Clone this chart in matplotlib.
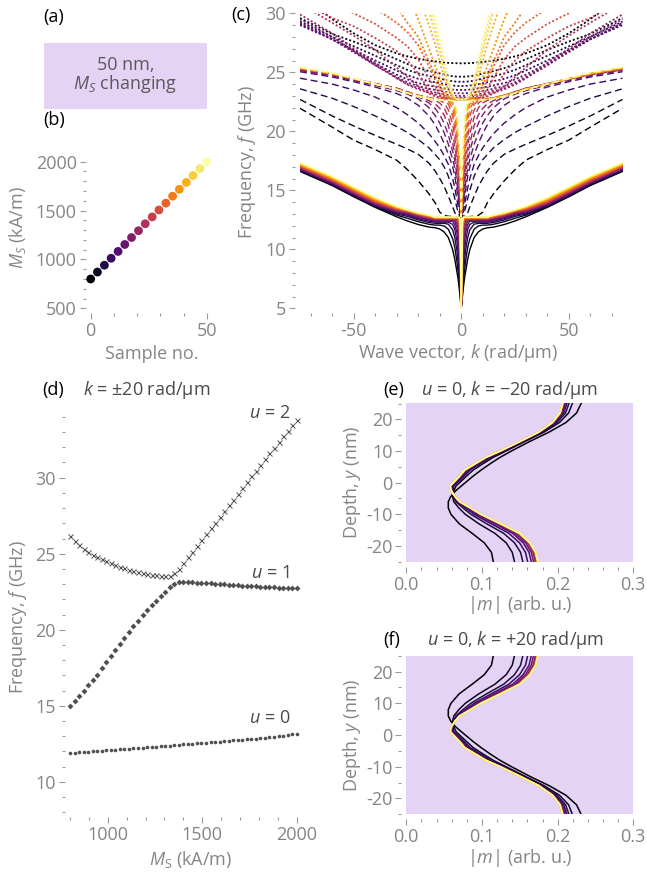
import numpy as np
import matplotlib
matplotlib.use("Agg")
import matplotlib.pyplot as plt
from matplotlib.patches import Rectangle
from matplotlib.ticker import MultipleLocator

plt.rcParams["font.family"] = ["Open Sans", "DejaVu Sans"]
plt.rcParams["mathtext.fontset"] = "custom"
plt.rcParams["mathtext.rm"] = "Open Sans"
plt.rcParams["mathtext.it"] = "Open Sans:italic"
plt.rcParams["axes.unicode_minus"] = False

# ---- (b) samples ----
SAMPLE_NO = [0, 2.9, 5.9, 8.8, 11.8, 14.7, 17.6, 20.6, 23.5, 26.5, 29.4, 32.4, 35.3, 38.2, 41.2, 44.1, 47.1, 50]
MS_SAMPLES = [800, 871, 941, 1012, 1082, 1153, 1224, 1294, 1365, 1435, 1506, 1576, 1647, 1718, 1788, 1859, 1929, 2000]

# ---- (c) dispersion, k >= 0 side (mirrored for k < 0) ----
K_POS = [0, 0.5, 1, 1.5, 2, 3, 4, 6, 8, 10, 12, 15, 20, 25, 30, 40, 50, 60, 75]

SOLID_U0 = [
    [5.0, 5.89, 6.77, 7.52, 8.07, 9.16, 9.98, 11.0, 11.48, 11.72, 11.82, 11.88, 12.1, 12.4, 12.75, 13.55, 14.45, 15.4, 16.6],
    [5.0, 6.23, 7.36, 8.19, 8.95, 10.17, 10.9, 11.7, 11.98, 12.05, 12.05, 12.12, 12.34, 12.63, 12.89, 13.6, 14.5, 15.45, 16.64],
    [5.0, 6.66, 7.97, 9.0, 9.87, 10.99, 11.65, 12.13, 12.2, 12.2, 12.2, 12.27, 12.49, 12.79, 12.99, 13.65, 14.55, 15.49, 16.69],
    [5.0, 7.13, 8.63, 9.84, 10.67, 11.68, 12.11, 12.3, 12.3, 12.3, 12.3, 12.38, 12.6, 12.89, 13.07, 13.7, 14.6, 15.54, 16.73],
    [5.0, 7.64, 9.38, 10.59, 11.39, 12.08, 12.37, 12.38, 12.38, 12.38, 12.38, 12.47, 12.68, 12.97, 13.14, 13.75, 14.65, 15.59, 16.78],
    [5.0, 8.07, 10.03, 11.19, 11.87, 12.37, 12.44, 12.44, 12.44, 12.44, 12.44, 12.53, 12.75, 13.03, 13.2, 13.8, 14.7, 15.64, 16.82],
    [5.0, 8.57, 10.66, 11.74, 12.19, 12.49, 12.49, 12.49, 12.49, 12.49, 12.49, 12.59, 12.8, 13.08, 13.25, 13.85, 14.75, 15.68, 16.86],
    [5.0, 9.11, 11.2, 12.13, 12.44, 12.53, 12.53, 12.53, 12.53, 12.53, 12.53, 12.64, 12.85, 13.13, 13.29, 13.9, 14.8, 15.73, 16.91],
    [5.0, 9.61, 11.65, 12.32, 12.56, 12.56, 12.56, 12.56, 12.56, 12.56, 12.56, 12.67, 12.88, 13.16, 13.33, 13.95, 14.85, 15.78, 16.95],
    [5.0, 10.13, 12.01, 12.51, 12.59, 12.59, 12.59, 12.59, 12.59, 12.59, 12.59, 12.71, 12.92, 13.19, 13.37, 14.0, 14.9, 15.82, 17.0],
    [5.0, 10.61, 12.26, 12.62, 12.62, 12.62, 12.62, 12.62, 12.62, 12.62, 12.62, 12.75, 12.95, 13.22, 13.42, 14.05, 14.95, 15.87, 17.04],
    [5.0, 10.96, 12.45, 12.64, 12.64, 12.64, 12.64, 12.64, 12.64, 12.64, 12.64, 12.77, 12.98, 13.25, 13.45, 14.1, 15.0, 15.92, 17.08],
    [5.0, 11.34, 12.58, 12.66, 12.66, 12.66, 12.66, 12.66, 12.66, 12.66, 12.66, 12.8, 13.0, 13.27, 13.49, 14.15, 15.05, 15.96, 17.13],
    [5.0, 11.72, 12.67, 12.68, 12.68, 12.68, 12.68, 12.68, 12.68, 12.68, 12.68, 12.82, 13.03, 13.29, 13.52, 14.2, 15.1, 16.01, 17.17],
    [5.0, 11.93, 12.7, 12.7, 12.7, 12.7, 12.7, 12.7, 12.7, 12.7, 12.7, 12.85, 13.05, 13.31, 13.56, 14.25, 15.15, 16.06, 17.22],
    [5.0, 12.17, 12.71, 12.71, 12.71, 12.71, 12.71, 12.71, 12.71, 12.71, 12.71, 12.87, 13.07, 13.33, 13.6, 14.3, 15.2, 16.11, 17.26],
    [5.0, 12.31, 12.72, 12.72, 12.72, 12.72, 12.72, 12.72, 12.72, 12.72, 12.72, 12.88, 13.09, 13.34, 13.62, 14.35, 15.25, 16.15, 17.3],
    [5.0, 12.42, 12.73, 12.73, 12.73, 12.73, 12.73, 12.73, 12.73, 12.73, 12.73, 12.9, 13.1, 13.35, 13.65, 14.4, 15.3, 16.2, 17.35],
]

DASHED_U1 = [
    [12.75, 12.75, 12.75, 12.75, 12.76, 12.76, 12.77, 12.8, 12.88, 13.15, 13.9, 14.7, 15.8, 16.75, 17.55, 18.45, 19.25, 20.35, 21.95],
    [12.75, 12.76, 12.78, 12.8, 12.85, 13.1, 13.6, 14.5, 15.35, 16.0, 16.6, 17.3, 18.05, 18.5, 18.9, 19.65, 20.45, 21.3, 22.7],
    [12.75, 12.8, 12.95, 13.2, 13.5, 14.3, 15.0, 16.2, 17.0, 17.6, 18.0, 18.6, 19.3, 19.9, 20.4, 21.3, 22.1, 22.8, 23.6],
    [12.75, 12.9, 13.2, 13.7, 14.2, 15.2, 16.0, 17.2, 17.95, 18.6, 19.1, 19.8, 20.7, 21.4, 22.0, 22.9, 23.5, 24.0, 24.5],
    [12.75, 13.1, 13.6, 14.3, 15.0, 16.2, 17.0, 18.05, 19.0, 19.8, 20.5, 21.3, 22.2, 22.8, 23.2, 23.75, 24.2, 24.6, 25.05],
    [12.75, 13.3, 14.0, 14.8, 15.6, 16.9, 17.6, 18.9, 19.9, 20.7, 21.3, 22.0, 22.75, 23.15, 23.45, 23.9, 24.3, 24.7, 25.15],
    [12.75, 13.5, 14.5, 15.5, 16.3, 17.5, 18.3, 19.7, 20.7, 21.4, 21.9, 22.4, 22.95, 23.3, 23.6, 24.0, 24.4, 24.8, 25.2],
    [12.75, 13.8, 15.0, 16.1, 17.0, 18.0, 19.0, 20.5, 21.4, 21.95, 22.3, 22.6, 23.0, 23.35, 23.65, 24.05, 24.45, 24.85, 25.25],
    [12.75, 14.1, 15.5, 16.6, 17.5, 18.7, 19.8, 21.2, 22.0, 22.4, 22.6, 22.8, 23.05, 23.35, 23.65, 24.05, 24.45, 24.85, 25.3],
    [12.75, 14.4, 16.0, 17.1, 18.0, 19.5, 20.6, 21.8, 22.4, 22.65, 22.75, 22.85, 23.05, 23.3, 23.6, 24.0, 24.45, 24.85, 25.3],
    [12.75, 14.8, 16.4, 17.6, 18.6, 20.2, 21.3, 22.3, 22.6, 22.7, 22.75, 22.85, 23.05, 23.3, 23.6, 24.0, 24.45, 24.85, 25.3],
    [12.75, 15.2, 16.9, 18.2, 19.3, 20.9, 21.9, 22.55, 22.65, 22.7, 22.74, 22.83, 23.03, 23.3, 23.6, 24.0, 24.45, 24.85, 25.32],
    [12.75, 15.6, 17.5, 18.8, 20.0, 21.5, 22.3, 22.6, 22.65, 22.7, 22.73, 22.82, 23.02, 23.28, 23.58, 24.0, 24.45, 24.87, 25.34],
    [12.75, 16.0, 18.0, 19.4, 20.6, 21.9, 22.5, 22.62, 22.65, 22.69, 22.72, 22.8, 23.0, 23.27, 23.57, 24.0, 24.45, 24.88, 25.36],
    [12.75, 16.4, 18.5, 19.9, 21.0, 22.2, 22.55, 22.63, 22.65, 22.68, 22.71, 22.79, 22.99, 23.26, 23.56, 24.0, 24.46, 24.9, 25.38],
    [12.75, 16.8, 18.9, 20.3, 21.4, 22.35, 22.58, 22.63, 22.65, 22.68, 22.71, 22.78, 22.98, 23.25, 23.55, 24.0, 24.47, 24.92, 25.4],
    [12.75, 17.2, 19.3, 20.7, 21.7, 22.45, 22.6, 22.63, 22.65, 22.67, 22.7, 22.77, 22.97, 23.24, 23.55, 24.0, 24.48, 24.94, 25.42],
    [12.75, 17.5, 19.7, 21.0, 21.95, 22.5, 22.6, 22.63, 22.65, 22.67, 22.7, 22.76, 22.96, 23.23, 23.55, 24.0, 24.5, 24.96, 25.45],
]

DOTTED_U2 = [
    [25.76, 25.76, 25.76, 25.76, 25.77, 25.77, 25.78, 25.8, 25.83, 25.87, 25.92, 26.0, 26.15, 26.35, 26.6, 27.3, 28.3, 29.5, 31.6],
    [24.63, 24.63, 24.63, 24.63, 24.64, 24.65, 24.67, 24.72, 24.8, 24.9, 25.0, 25.1, 25.35, 25.7, 26.1, 26.9, 27.6, 28.25, 29.6],
    [24.2, 24.2, 24.2, 24.2, 24.21, 24.22, 24.24, 24.3, 24.38, 24.47, 24.56, 24.68, 24.9, 25.2, 25.6, 26.4, 27.2, 28.0, 29.3],
    [23.84, 23.84, 23.84, 23.84, 23.85, 23.86, 23.88, 23.93, 24.0, 24.07, 24.15, 24.25, 24.45, 24.75, 25.15, 26.0, 26.9, 27.8, 29.1],
    [23.5, 23.5, 23.5, 23.5, 23.51, 23.52, 23.54, 23.58, 23.64, 23.71, 23.78, 23.88, 24.08, 24.4, 24.8, 25.75, 26.8, 27.8, 29.0],
    [23.22, 23.22, 23.22, 23.22, 23.23, 23.24, 23.26, 23.3, 23.36, 23.43, 23.5, 23.6, 23.82, 24.15, 24.6, 25.6, 26.7, 27.8, 29.2],
    [23.0, 23.0, 23.0, 23.0, 23.01, 23.02, 23.04, 23.08, 23.14, 23.2, 23.28, 23.4, 23.65, 24.0, 24.5, 25.6, 26.8, 28.0, 29.5],
    [22.85, 22.85, 22.85, 22.85, 22.86, 22.87, 22.88, 22.92, 22.98, 23.05, 23.13, 23.27, 23.55, 23.95, 24.5, 25.8, 27.0, 28.3, 29.9],
    [22.78, 22.78, 22.78, 22.78, 22.78, 22.79, 22.79, 22.8, 22.83, 22.88, 22.95, 23.2, 23.8, 24.6, 25.4, 26.9, 28.1, 29.2, 30.8],
    [22.72, 22.72, 22.72, 22.72, 22.72, 22.72, 22.73, 22.74, 22.76, 22.8, 22.95, 23.5, 24.9, 26.0, 26.8, 27.9, 28.9, 29.6, 31.0],
    [22.7, 22.7, 22.7, 22.7, 22.7, 22.7, 22.71, 22.73, 22.78, 22.95, 23.6, 24.5, 26.1, 27.2, 27.9, 29.1, 30.0, 30.8, 32.0],
    [22.7, 22.7, 22.7, 22.7, 22.7, 22.7, 22.71, 22.75, 22.9, 23.5, 24.3, 25.5, 27.3, 28.4, 29.2, 30.4, 31.5, 32.5, 34.0],
    [22.7, 22.7, 22.7, 22.7, 22.7, 22.71, 22.72, 22.8, 23.2, 23.9, 24.7, 25.9, 28.0, 29.2, 30.5, 32.5, 34.0, 35.0, 37.0],
    [22.7, 22.7, 22.7, 22.7, 22.7, 22.72, 22.75, 22.95, 23.6, 24.5, 25.5, 27.0, 29.5, 31.5, 33.0, 35.0, 37.0, 38.0, 40.0],
    [22.7, 22.7, 22.7, 22.7, 22.71, 22.75, 22.85, 23.5, 24.6, 25.9, 27.3, 29.0, 31.5, 33.5, 35.0, 37.0, 39.0, 40.0, 42.0],
    [22.7, 22.7, 22.7, 22.71, 22.72, 22.8, 22.95, 23.9, 25.3, 26.8, 28.2, 30.2, 33.0, 35.0, 37.0, 39.0, 41.0, 42.0, 44.0],
    [22.7, 22.7, 22.7, 22.71, 22.73, 22.85, 23.15, 24.2, 25.8, 27.4, 28.9, 30.8, 34.0, 36.0, 38.0, 40.0, 42.0, 44.0, 46.0],
    [22.7, 22.7, 22.7, 22.72, 22.75, 22.9, 23.3, 24.5, 26.3, 27.9, 29.6, 32.0, 35.0, 37.0, 39.0, 41.0, 43.0, 45.0, 47.0],
]

# ---- (d) frequencies at k = +-20 rad/um vs Ms ----
MS_SWEEP = [800, 824, 848, 872, 896, 920, 944, 968, 992, 1016, 1040, 1064, 1088, 1112, 1136, 1160, 1184,
            1208, 1232, 1256, 1280, 1304, 1328, 1352, 1376, 1400, 1424, 1448, 1472, 1496, 1520, 1544, 1568,
            1592, 1616, 1640, 1664, 1688, 1712, 1736, 1760, 1784, 1808, 1832, 1856, 1880, 1904, 1928, 1952,
            1976, 2000]
U0_SWEEP = [11.90, 11.92, 11.94, 11.96, 11.98, 12.00, 12.02, 12.05, 12.07, 12.09, 12.11, 12.13, 12.15,
            12.17, 12.20, 12.22, 12.24, 12.26, 12.29, 12.31, 12.33, 12.35, 12.38, 12.40, 12.42, 12.45,
            12.47, 12.49, 12.52, 12.54, 12.57, 12.59, 12.62, 12.64, 12.67, 12.69, 12.72, 12.74, 12.77,
            12.79, 12.82, 12.84, 12.87, 12.90, 12.93, 12.96, 12.99, 13.03, 13.07, 13.11, 13.15]
U1_SWEEP = [15.0, 15.3, 15.65, 16.0, 16.35, 16.7, 17.05, 17.45, 17.85, 18.25, 18.65, 19.05, 19.45, 19.85,
            20.25, 20.6, 20.95, 21.3, 21.6, 21.9, 22.2, 22.5, 22.8, 23.02, 23.12, 23.15, 23.14, 23.12,
            23.1, 23.08, 23.06, 23.04, 23.02, 23.0, 22.98, 22.96, 22.94, 22.92, 22.9, 22.88, 22.86, 22.85,
            22.83, 22.81, 22.8, 22.78, 22.77, 22.75, 22.74, 22.73, 22.72]
U2_SWEEP = [26.14, 25.85, 25.58, 25.34, 25.13, 24.94, 24.77, 24.62, 24.49, 24.37, 24.26, 24.15, 24.05,
            23.96, 23.87, 23.79, 23.72, 23.66, 23.61, 23.57, 23.54, 23.52, 23.55, 23.72, 24.02, 24.38,
            24.76, 25.14, 25.52, 25.9, 26.28, 26.66, 27.04, 27.42, 27.8, 28.18, 28.56, 28.94, 29.32,
            29.7, 30.08, 30.46, 30.84, 31.22, 31.6, 31.98, 32.36, 32.74, 33.1, 33.45, 33.77]

# ---- (e)/(f) mode profiles |m|(y), u = 0, k = -20 ((f) is the mirror image) ----
DEPTH_NM = [-25, -22, -19, -16, -13, -10, -8, -6, -4.5, -3, -2, -1, 0, 2, 4, 6, 8, 10, 13, 16, 19, 22, 25]
PROFILES = [
    [0.115, 0.1125, 0.103, 0.087, 0.070, 0.059, 0.0555, 0.0555, 0.0585, 0.0635, 0.068, 0.073, 0.078, 0.088, 0.099, 0.111, 0.124, 0.139, 0.163, 0.189, 0.211, 0.225, 0.231],
    [0.143, 0.140, 0.132, 0.117, 0.096, 0.078, 0.0695, 0.0627, 0.0613, 0.0621, 0.064, 0.0659, 0.0704, 0.0794, 0.0885, 0.1015, 0.115, 0.1319, 0.1568, 0.1823, 0.2024, 0.2145, 0.2194],
    [0.154, 0.151, 0.143, 0.1286, 0.1063, 0.0854, 0.075, 0.0655, 0.0626, 0.0615, 0.0621, 0.0631, 0.0674, 0.0761, 0.0845, 0.0978, 0.1115, 0.1291, 0.1544, 0.1798, 0.1991, 0.2105, 0.2149],
    [0.1604, 0.1575, 0.1496, 0.1355, 0.1124, 0.0898, 0.0782, 0.0671, 0.0634, 0.0612, 0.0609, 0.0614, 0.0657, 0.0741, 0.0821, 0.0956, 0.1094, 0.1274, 0.153, 0.1782, 0.1971, 0.2081, 0.2122],
    [0.1652, 0.1622, 0.1544, 0.1406, 0.1168, 0.093, 0.0806, 0.0683, 0.064, 0.0609, 0.0601, 0.0602, 0.0644, 0.0727, 0.0803, 0.094, 0.1078, 0.1262, 0.152, 0.1771, 0.1957, 0.2063, 0.2103],
    [0.1681, 0.1652, 0.1575, 0.1437, 0.1195, 0.095, 0.0821, 0.0691, 0.0643, 0.0608, 0.0596, 0.0595, 0.0636, 0.0718, 0.0792, 0.093, 0.1069, 0.1255, 0.1513, 0.1764, 0.1948, 0.2052, 0.209],
    [0.1705, 0.1675, 0.1599, 0.1462, 0.1217, 0.0966, 0.0832, 0.0697, 0.0646, 0.0607, 0.0591, 0.0589, 0.063, 0.0711, 0.0783, 0.0922, 0.1061, 0.1249, 0.1508, 0.1758, 0.1941, 0.2043, 0.2081],
    [0.1716, 0.1687, 0.1611, 0.1475, 0.1228, 0.0974, 0.0838, 0.07, 0.0647, 0.0606, 0.0589, 0.0586, 0.0626, 0.0707, 0.0779, 0.0918, 0.1058, 0.1246, 0.1505, 0.1756, 0.1937, 0.2039, 0.2076],
    [0.1722, 0.1693, 0.1617, 0.1481, 0.1234, 0.0978, 0.0841, 0.0701, 0.0648, 0.0606, 0.0588, 0.0585, 0.0625, 0.0705, 0.0777, 0.0916, 0.1056, 0.1245, 0.1504, 0.1754, 0.1935, 0.2037, 0.2073],
    [0.1727, 0.1697, 0.1622, 0.1486, 0.1238, 0.0981, 0.0844, 0.0703, 0.0648, 0.0606, 0.0587, 0.0583, 0.0624, 0.0704, 0.0775, 0.0914, 0.1054, 0.1243, 0.1503, 0.1753, 0.1934, 0.2035, 0.2071],
    [0.1731, 0.1701, 0.1625, 0.149, 0.1241, 0.0984, 0.0845, 0.0704, 0.0649, 0.0605, 0.0587, 0.0582, 0.0623, 0.0703, 0.0774, 0.0913, 0.1053, 0.1242, 0.1502, 0.1752, 0.1933, 0.2034, 0.207],
    [0.1733, 0.1703, 0.1628, 0.1492, 0.1243, 0.0985, 0.0846, 0.0704, 0.0649, 0.0605, 0.0586, 0.0582, 0.0622, 0.0702, 0.0773, 0.0912, 0.1052, 0.1242, 0.1502, 0.1752, 0.1932, 0.2033, 0.2069],
    [0.1735, 0.1705, 0.1629, 0.1494, 0.1245, 0.0986, 0.0847, 0.0705, 0.0649, 0.0605, 0.0586, 0.0581, 0.0621, 0.0702, 0.0772, 0.0912, 0.1052, 0.1241, 0.1501, 0.1751, 0.1932, 0.2032, 0.2068],
    [0.1736, 0.1706, 0.1631, 0.1496, 0.1247, 0.0988, 0.0848, 0.0705, 0.065, 0.0605, 0.0585, 0.0581, 0.0621, 0.0701, 0.0771, 0.0911, 0.1051, 0.1241, 0.1501, 0.1751, 0.1931, 0.2031, 0.2067],
    [0.1738, 0.1708, 0.1633, 0.1497, 0.1248, 0.0988, 0.0849, 0.0705, 0.065, 0.0605, 0.0585, 0.058, 0.062, 0.0701, 0.0771, 0.0911, 0.1051, 0.124, 0.1501, 0.1751, 0.1931, 0.2031, 0.2067],
    [0.1739, 0.1709, 0.1634, 0.1499, 0.1249, 0.0989, 0.085, 0.0706, 0.065, 0.0605, 0.0585, 0.058, 0.062, 0.07, 0.077, 0.091, 0.105, 0.124, 0.15, 0.175, 0.193, 0.203, 0.2066],
    [0.174, 0.171, 0.1635, 0.15, 0.125, 0.099, 0.085, 0.0706, 0.065, 0.0605, 0.0585, 0.058, 0.062, 0.07, 0.077, 0.091, 0.105, 0.124, 0.15, 0.175, 0.193, 0.203, 0.2066],
    [0.174, 0.171, 0.1635, 0.15, 0.125, 0.099, 0.085, 0.0706, 0.065, 0.0605, 0.0585, 0.058, 0.062, 0.070, 0.077, 0.091, 0.105, 0.124, 0.150, 0.175, 0.193, 0.203, 0.2066],
]

W, H = 647, 874
LAVENDER = "#e5d3f6"
TICK_GREY = "#9a9a9a"
LABEL_GREY = "#858585"
TEXT_DARK = "#4a4a4a"
MARKER_GREY = "#505050"
FS = 13

colors = plt.cm.inferno(np.linspace(0, 1, len(MS_SAMPLES)))

fig = plt.figure(figsize=(W / 100, H / 100), dpi=100)


def axes_px(left, top, right, bottom):
    return fig.add_axes([left / W, 1 - bottom / H, (right - left) / W, (bottom - top) / H])


def text_px(x, y, s, **kw):
    kw.setdefault("fontsize", FS)
    fig.text(x / W, 1 - y / H, s, **kw)


def style_axes(ax):
    for side in ax.spines.values():
        side.set_visible(False)
    ax.spines["left"].set_position(("outward", 3.5))
    ax.spines["bottom"].set_position(("outward", 3.5))
    ax.tick_params(which="both", direction="out", color=TICK_GREY, labelcolor=LABEL_GREY,
                   labelsize=FS, width=0.8, pad=2.5)
    ax.tick_params(which="major", length=4)
    ax.tick_params(which="minor", length=2.2)


# (a) description box
fig.patches.append(Rectangle((44 / W, 1 - 109 / H), 163 / W, 66 / H, transform=fig.transFigure,
                             facecolor=LAVENDER, edgecolor="none"))
text_px(43, 17, "(a)", va="center", ha="left", color="black")
text_px(125.5, 65, "50 nm,", ha="center", va="center", color="#5a5a5a")
text_px(125.5, 84, "$M_S$ changing", ha="center", va="center", color="#5a5a5a")

# (b) Ms of each sample
ax_b = axes_px(90.7, 161.7, 206.7, 308.3)
style_axes(ax_b)
ax_b.scatter(SAMPLE_NO, MS_SAMPLES, c=colors, s=40, linewidths=0, clip_on=False, zorder=3)
ax_b.set_xlim(0, 50)
ax_b.set_ylim(500, 2000)
ax_b.xaxis.set_major_locator(MultipleLocator(50))
ax_b.xaxis.set_minor_locator(MultipleLocator(10))
ax_b.yaxis.set_major_locator(MultipleLocator(500))
ax_b.yaxis.set_minor_locator(MultipleLocator(100))
text_px(43, 120, "(b)", va="center", ha="left", color="black")
text_px(17, 228, "$M_S$ (kA/m)", rotation=90, ha="center", va="center", color=LABEL_GREY)
text_px(152, 354, "Sample no.", ha="center", va="center", color=LABEL_GREY)

# (c) dispersion
ax_c = axes_px(300, 13.3, 622.5, 308.3)
style_axes(ax_c)
k_full = [-k for k in K_POS[::-1]] + K_POS[1:]
for i in range(len(MS_SAMPLES)):
    solid = SOLID_U0[i][::-1] + SOLID_U0[i][1:]
    dashed = DASHED_U1[i][::-1] + DASHED_U1[i][1:]
    dotted = DOTTED_U2[i][::-1] + DOTTED_U2[i][1:]
    ax_c.plot(k_full, solid, color=colors[i], lw=1.0)
    ax_c.plot(k_full, dashed, color=colors[i], lw=1.0, dashes=(5, 2.8))
    ax_c.plot(k_full, dotted, color=colors[i], lw=1.3, dashes=(1.1, 1.2))
ax_c.set_xlim(-75, 75)
ax_c.set_ylim(5, 30)
ax_c.xaxis.set_major_locator(MultipleLocator(50))
ax_c.xaxis.set_minor_locator(MultipleLocator(10))
ax_c.yaxis.set_major_locator(MultipleLocator(5))
ax_c.yaxis.set_minor_locator(MultipleLocator(1))
text_px(231, 15, "(c)", va="center", ha="left", color="black")
text_px(247, 162, "Frequency, $f$ (GHz)", rotation=90, ha="center", va="center", color=LABEL_GREY)
text_px(458.5, 353, "Wave vector, $k$ (rad/µm)", ha="center", va="center", color=LABEL_GREY)

# (d) frequencies vs Ms
ax_d = axes_px(70, 416.9, 296.7, 812.1)
style_axes(ax_d)
ax_d.plot(MS_SWEEP, U0_SWEEP, "o", ms=2.6, color=MARKER_GREY, mew=0, clip_on=False)
ax_d.plot(MS_SWEEP, U1_SWEEP, "D", ms=3.0, color=MARKER_GREY, mew=0, clip_on=False)
ax_d.plot(MS_SWEEP, U2_SWEEP, "x", ms=3.6, color=MARKER_GREY, mew=0.7, clip_on=False)
ax_d.set_xlim(800, 2000)
ax_d.set_ylim(8, 34)
ax_d.xaxis.set_major_locator(MultipleLocator(500))
ax_d.xaxis.set_minor_locator(MultipleLocator(100))
ax_d.yaxis.set_major_locator(MultipleLocator(5))
ax_d.yaxis.set_minor_locator(MultipleLocator(1))
text_px(42, 390, "(d)", va="center", ha="left", color="black")
text_px(83, 390, "$k$ = ±20 rad/µm", va="center", ha="left", color=TEXT_DARK)
text_px(290, 413, "$u$ = 2", va="center", ha="right", color=TEXT_DARK)
text_px(289, 573, "$u$ = 1", va="center", ha="right", color=TEXT_DARK)
text_px(290, 718, "$u$ = 0", va="center", ha="right", color=TEXT_DARK)
text_px(18, 617, "Frequency, $f$ (GHz)", rotation=90, ha="center", va="center", color=LABEL_GREY)
text_px(191, 860, "$M_\\mathrm{S}$ (kA/m)", ha="center", va="center", color=LABEL_GREY)

# (e), (f) depth profiles
depth_flipped = [-y for y in DEPTH_NM]
for ax, top, bottom, depth in ((axes_px(406.3, 403.5, 633.3, 561.8), 403.5, 561.8, DEPTH_NM),
                               (axes_px(406.3, 655.7, 633.3, 814.3), 655.7, 814.3, depth_flipped)):
    style_axes(ax)
    ax.set_facecolor(LAVENDER)
    for i, prof in enumerate(PROFILES):
        ax.plot(prof, depth, color=colors[i], lw=1.1)
    ax.set_xlim(0, 0.3)
    ax.set_ylim(-25, 25)
    ax.xaxis.set_major_locator(MultipleLocator(0.1))
    ax.xaxis.set_minor_locator(MultipleLocator(0.02))
    ax.yaxis.set_major_locator(MultipleLocator(10))
    ax.yaxis.set_minor_locator(MultipleLocator(5))
    ax.xaxis.set_major_formatter(matplotlib.ticker.FormatStrFormatter("%.1f"))
    mid = (top + bottom) / 2
    text_px(352, mid, "Depth, $y$ (nm)", rotation=90, ha="center", va="center", color=LABEL_GREY)
    text_px(519.5, bottom + 43.5, "|$m$| (arb. u.)", ha="center", va="center", color=LABEL_GREY)

text_px(383, 390, "(e)", va="center", ha="left", color="black")
text_px(421, 390, "$u$ = 0, $k$ = −20 rad/µm", va="center", ha="left", color=TEXT_DARK)
text_px(383, 640, "(f)", va="center", ha="left", color="black")
text_px(427, 640, "$u$ = 0, $k$ = +20 rad/µm", va="center", ha="left", color=TEXT_DARK)

fig.savefig("out.png", dpi=100)
